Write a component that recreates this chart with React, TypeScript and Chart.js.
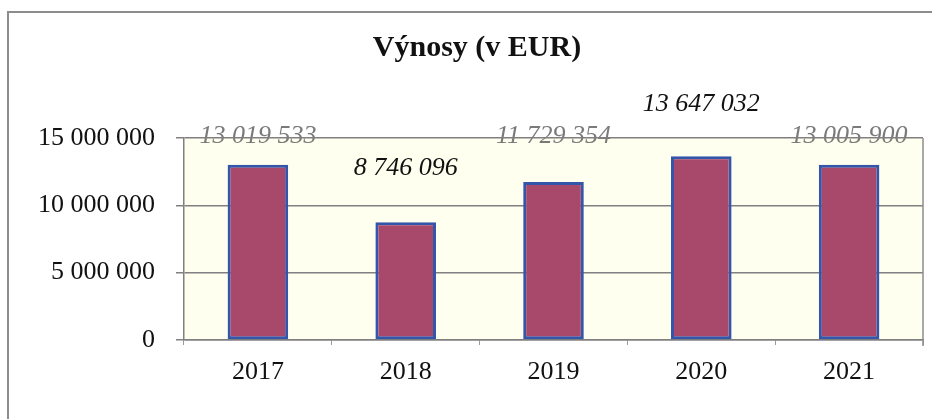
import React, { useEffect, useRef } from "react";
import { Chart, registerables } from "chart.js";

Chart.register(...registerables);

const chartTitle = "Výnosy (v EUR)";
const categories = ["2017", "2018", "2019", "2020", "2021"];
const revenues = [13019533, 8746096, 11729354, 13647032, 13005900];
const yMin = 0;
const yMax = 15000000;
const yStep = 5000000;

// label placement / colour (style only)
const labelOffsets = [28, 54, 46, 52, 29];
const labelColors = ["#7a7a7a", "#111111", "#7a7a7a", "#111111", "#7a7a7a"];

const fmt = (n: number) => String(Math.round(n)).replace(/\B(?=(\d{3})+(?!\d))/g, " ");

const SERIF = "'Liberation Serif', 'Times New Roman', serif";

const decorPlugin = {
  id: "decor",
  beforeDraw(chart: any) {
    const { ctx, chartArea: a } = chart;
    ctx.save();
    ctx.fillStyle = "#ffffff";
    ctx.fillRect(0, 0, chart.width, chart.height);
    // outer frame
    ctx.strokeStyle = "#8c8c8c";
    ctx.lineWidth = 2;
    ctx.beginPath();
    ctx.moveTo(8, chart.height);
    ctx.lineTo(8, 12);
    ctx.lineTo(chart.width, 12);
    ctx.stroke();
    // plot background
    ctx.fillStyle = "#fffff0";
    ctx.fillRect(a.left, a.top, a.right - a.left, a.bottom - a.top);
    // title
    ctx.fillStyle = "#111111";
    ctx.font = `bold 30px ${SERIF}`;
    ctx.textAlign = "center";
    ctx.textBaseline = "middle";
    ctx.fillText(chartTitle, 477, 48);
    // data labels (under gridlines)
    const meta = chart.getDatasetMeta(0);
    ctx.font = `italic 26px ${SERIF}`;
    meta.data.forEach((bar: any, i: number) => {
      const v = chart.data.datasets[0].data[i];
      const yTop = chart.scales.y.getPixelForValue(v);
      ctx.fillStyle = labelColors[i];
      ctx.fillText(fmt(v), bar.x, yTop - labelOffsets[i]);
    });
    ctx.restore();
  },
  afterDraw(chart: any) {
    const { ctx, chartArea: a } = chart;
    ctx.save();
    ctx.strokeStyle = "#8c8c8c";
    ctx.lineWidth = 1.5;
    ctx.beginPath();
    ctx.moveTo(a.right, a.top);
    ctx.lineTo(a.right, a.bottom + 6);
    ctx.stroke();
    ctx.restore();
  },
};

export default function App() {
  const ref = useRef<HTMLCanvasElement>(null);
  useEffect(() => {
    if (!ref.current) return;
    const chart = new Chart(ref.current, {
      type: "bar",
      data: {
        labels: categories,
        datasets: [
          {
            data: revenues,
            backgroundColor: "#a8486a",
            borderColor: "#3355aa",
            borderWidth: 3,
            borderSkipped: false,
            categoryPercentage: 1,
            barPercentage: 0.41,
          },
        ],
      },
      options: {
        animation: false,
        responsive: false,
        layout: { padding: { top: 138, right: 9, left: 0, bottom: 0 } },
        plugins: { legend: { display: false }, title: { display: false }, tooltip: { enabled: false } },
        scales: {
          x: {
            grid: { display: true, drawOnChartArea: false, tickLength: 5, color: "#9a9a9a", lineWidth: 1 },
            border: { display: true, color: "#808080", width: 1.5 },
            ticks: { color: "#111111", font: { family: SERIF, size: 26 }, padding: 12, maxRotation: 0 },
            afterFit: (s: any) => {
              s.height = 79;
            },
          },
          y: {
            min: yMin,
            max: yMax,
            grid: { color: "#808080", lineWidth: 1.5, tickLength: 8 },
            border: { display: true, color: "#808080", width: 1.5 },
            ticks: {
              stepSize: yStep,
              color: "#111111",
              font: { family: SERIF, size: 26 },
              padding: 21,
              callback: (v: any) => fmt(Number(v)),
            },
            afterFit: (s: any) => {
              s.width = 184;
            },
          },
        },
      },
      plugins: [decorPlugin],
    });
    return () => chart.destroy();
  }, []);
  return (
    <div style={{ position: "fixed", left: 0, top: 0, width: 932, height: 419, background: "#fff" }}>
      <canvas ref={ref} width={932} height={419} style={{ width: 932, height: 419, display: "block" }} />
    </div>
  );
}
